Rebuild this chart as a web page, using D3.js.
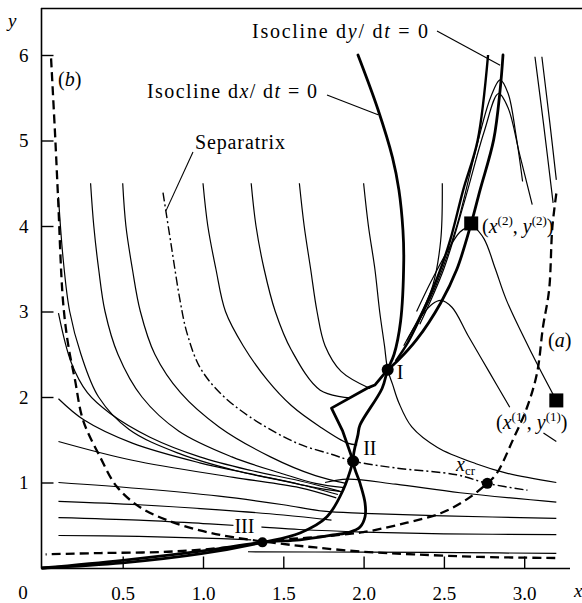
<!DOCTYPE html>
<html>
<head>
<meta charset="utf-8">
<script src="https://cdn.jsdelivr.net/npm/d3@7"></script>
<style>
  body { margin: 0; background: #fff; }
  text { font-family: "Liberation Serif", "Times New Roman", serif; fill: #000; }
</style>
</head>
<body>
<svg id="chart" width="582" height="603"></svg>
<script>
// ---- tick values ----
const xTicks = [0.5, 1.0, 1.5, 2.0, 2.5, 3.0];
const yTicks = [1, 2, 3, 4, 5, 6];

// ---- isoclines (thick) ----
const isoclineDx = [[1.965,6.0],[2.09,5.36],[2.18,4.8],[2.22,4.42],[2.245,3.95],[2.25,3.6],[2.23,2.88],[2.19,2.5],[2.15,2.32],[2.115,2.10],[1.977,1.67],[1.965,1.56],[1.935,1.25],[1.978,0.99],[2.009,0.76],[2.009,0.60],[1.978,0.48],[1.915,0.42],[1.81,0.386],[1.604,0.33],[1.37,0.30],[1.0,0.2],[0.5,0.09],[0.0,0.0]];
// dy/dt = 0 in three pieces: smooth upper branch, broken middle, smooth lower branch
const isoclineDyUpper = [[2.868,6.0],[2.85,5.59],[2.81,5.01],[2.725,4.42],[2.67,4.03],[2.58,3.49],[2.48,3.1],[2.33,2.67],[2.21,2.42],[2.15,2.32]];
const isoclineDyMiddle = [[2.15,2.32],[2.07,2.14],[2.03,2.11],[1.80,1.87],[1.87,1.6],[1.935,1.25]];
const isoclineDyLower = [[1.935,1.25],[1.872,0.91],[1.772,0.60],[1.604,0.41],[1.37,0.30],[1.0,0.17],[0.5,0.06],[0.0,0.0]];

// ---- phase trajectories (thin) ----
const trajTop = [[2.775,6.0],[2.71,5.0],[2.62,4.42],[2.54,3.84],[2.47,3.45],[2.37,3.0],[2.28,2.65],[2.2,2.42]];
const peakA = [[2.3,2.72],[2.45,3.3],[2.58,4.0],[2.7,4.9],[2.79,5.5],[2.85,5.71],[2.9,5.55],[2.95,5.05],[2.99,4.52]];
const peakB = [[2.35,2.85],[2.5,3.5],[2.63,4.3],[2.75,5.1],[2.84,5.55],[2.9,5.38],[2.97,4.85],[3.05,4.25]];
const peakC = [[2.25,2.6],[2.35,2.92],[2.43,3.09],[2.48,3.13],[2.55,3.05],[2.65,2.72],[2.78,2.3],[2.91,1.88]];
const farRight1 = [[3.067,5.98],[3.12,5.2],[3.18,4.27]];
const farRight2 = [[3.11,5.98],[3.16,5.2],[3.2,4.54]];
const fromP2toP1 = [[2.67,4.03],[2.75,3.85],[2.82,3.5],[2.89,3.13],[3.05,2.5],[3.2,1.96]];
const belowP1 = [[3.12,1.58],[3.2,1.48]];
const leftOfP2 = [[2.66,4.0],[2.6,3.93],[2.52,3.7],[2.42,3.35],[2.33,3.0]];
const trajE = [[2.49,4.5],[2.48,3.83],[2.43,3.3],[2.35,2.95],[2.27,2.66]];
const trajD = [[2.0,4.5],[2.03,4.0],[2.07,3.5],[2.1,3.0],[2.13,2.6],[2.15,2.32],[2.18,2.15],[2.22,1.93],[2.3,1.65],[2.46,1.41],[2.7,1.22],[2.89,1.11],[3.2,1.0]];
const trajC = [[1.6,4.5],[1.63,4.0],[1.67,3.5],[1.71,3.0],[1.76,2.6],[1.86,2.3],[2.04,2.1]];
const trajB = [[1.3,4.5],[1.33,4.0],[1.38,3.5],[1.45,3.0],[1.55,2.55],[1.73,2.08],[1.915,1.99]];
const trajA = [[1.0,4.5],[1.03,4.0],[1.08,3.5],[1.14,3.0],[1.25,2.6],[1.4,2.2],[1.55,1.9],[1.73,1.65],[1.9,1.46],[1.96,1.44]];
const trajS2 = [[0.5,4.5],[0.52,4.0],[0.56,3.5],[0.61,3.0],[0.7,2.5],[0.86,2.05],[1.1,1.65],[1.42,1.3],[1.7,1.08],[1.89,0.99]];
const trajS3 = [[0.3,4.5],[0.32,4.0],[0.35,3.5],[0.39,3.0],[0.47,2.5],[0.62,2.0],[0.85,1.6],[1.18,1.3],[1.5,1.1],[1.7,0.99],[1.88,0.94]];
const trajS4 = [[0.1,4.34],[0.13,3.6],[0.17,3.0],[0.24,2.5],[0.35,2.0],[0.54,1.62],[0.85,1.34],[1.2,1.14],[1.5,1.02],[1.7,0.94],[1.87,0.89]];
const trajL30 = [[0.1,2.98],[0.18,2.4],[0.28,2.05],[0.42,1.81],[0.67,1.53],[0.98,1.3],[1.3,1.14],[1.6,1.02],[1.85,0.9]];
const trajL20 = [[0.1,1.98],[0.26,1.73],[0.56,1.46],[0.98,1.23],[1.3,1.1],[1.6,0.98],[1.84,0.86]];
const trajL15 = [[0.1,1.48],[0.56,1.26],[1.19,1.06],[1.6,0.94],[1.83,0.82]];
const trajH1 = [[0.1,1.0],[0.6,0.93],[1.1,0.84],[1.5,0.74],[1.75,0.665],[2.0,0.64],[2.5,0.61],[3.2,0.58]];
const trajH2 = [[0.1,0.78],[0.6,0.74],[1.1,0.68],[1.5,0.62],[1.8,0.56]];
const trajH3 = [[0.1,0.59],[0.6,0.56],[1.0,0.52],[1.35,0.48],[1.6,0.45],[2.0,0.42],[2.5,0.40],[3.2,0.39]];
const trajH4 = [[0.1,0.38],[0.6,0.37],[1.0,0.35],[1.3,0.33]];
const trajH5 = [[1.28,0.19],[2.0,0.185],[2.6,0.18],[3.2,0.17]];
const trajR1 = [[1.76,1.0],[1.9,1.04],[2.2,0.98],[2.6,0.88],[3.2,0.77]];

// ---- special curves ----
const curveA = [[3.2,4.38],[3.175,3.98],[3.155,3.25],[3.117,2.82],[3.08,2.28],[3.018,1.88],[2.93,1.5],[2.83,1.11],[2.77,0.99],[2.64,0.8],[2.48,0.64],[2.27,0.53],[2.0,0.42],[1.69,0.36],[1.48,0.33],[1.19,0.25],[0.78,0.19],[0.36,0.175],[0.02,0.16]];
const curveB = [[0.054,5.96],[0.08,5.03],[0.097,4.35],[0.128,3.13],[0.159,2.63],[0.203,2.2],[0.253,1.73],[0.359,1.3],[0.464,0.95],[0.608,0.71],[0.776,0.56],[0.981,0.44],[1.187,0.36],[1.46,0.29],[1.7,0.24],[2.0,0.19],[2.31,0.16],[2.72,0.13],[3.2,0.117]];
const separatrix = [[0.751,4.39],[0.8,3.8],[0.857,3.13],[0.9,2.75],[0.98,2.35],[1.105,2.05],[1.29,1.77],[1.585,1.46],[1.8,1.33],[1.935,1.25],[2.2,1.17],[2.58,1.09],[2.77,0.99],[3.02,0.91]];

// ---- equilibria and marked points ----
const equilibria = [{name:"I", p:[2.15,2.32]}, {name:"II", p:[1.935,1.25]}, {name:"III", p:[1.37,0.30]}];
const xCritical = [2.77, 0.99];
const squarePoints = [[3.2,1.96],[2.67,4.03]];

const svg = d3.select("#chart");
const x = d3.scaleLinear().domain([0, 3]).range([42.4, 524.2]);
const y = d3.scaleLinear().domain([0, 6]).range([568, 55]);

const line = d3.line().x(d => x(d[0])).y(d => y(d[1])).curve(d3.curveCatmullRom.alpha(0.5));
const polyline = d3.line().x(d => x(d[0])).y(d => y(d[1]));

// frame: left axis, bottom axis, top border
svg.append("line").attr("x1", 41.5).attr("x2", 41.5).attr("y1", 8).attr("y2", 568.5).attr("stroke", "#000").attr("stroke-width", 1.6);
svg.append("line").attr("x1", 41).attr("x2", 570).attr("y1", 568.5).attr("y2", 568.5).attr("stroke", "#000").attr("stroke-width", 1.6);
svg.append("line").attr("x1", 41).attr("x2", 582).attr("y1", 8.5).attr("y2", 8.5).attr("stroke", "#000").attr("stroke-width", 1.6);

const tickFont = 19;
const yAxis = d3.axisLeft(y).tickValues(yTicks).tickFormat(d3.format("d")).tickSizeInner(-12).tickSizeOuter(0).tickPadding(13);
const gy = svg.append("g").attr("transform", "translate(41.5,0)").call(yAxis);
const xAxis = d3.axisBottom(x).tickValues(xTicks).tickFormat(d3.format(".1f")).tickSizeInner(-12).tickSizeOuter(0).tickPadding(18);
const gx = svg.append("g").attr("transform", "translate(0,568.5)").call(xAxis);
[gx, gy].forEach(g => {
  g.select(".domain").remove();
  g.selectAll(".tick line").attr("stroke", "#000").attr("stroke-width", 1.4);
  g.selectAll(".tick text").attr("font-family", "Liberation Serif, serif").attr("font-size", tickFont).attr("fill", "#000");
});
svg.append("text").attr("x", 23).attr("y", 599).attr("text-anchor", "middle").attr("font-size", tickFont).text("0");
svg.append("text").attr("x", 8).attr("y", 27).attr("font-size", tickFont).attr("font-style", "italic").text("y");
svg.append("text").attr("x", 574).attr("y", 597).attr("font-size", tickFont).attr("font-style", "italic").text("x");

// thin trajectories
const thin = [peakA, peakB, peakC, farRight1, farRight2, fromP2toP1, belowP1, leftOfP2, trajE, trajD, trajC, trajB, trajA,
  trajS2, trajS3, trajS4, trajL30, trajL20, trajL15, trajH1, trajH2, trajH3, trajH4, trajH5, trajR1];
svg.append("g").selectAll("path").data(thin).join("path")
  .attr("d", line).attr("fill", "none").attr("stroke", "#000").attr("stroke-width", 1.2);
svg.append("path").attr("d", line(trajTop)).attr("fill", "none").attr("stroke", "#000").attr("stroke-width", 2.4);

// separatrix (dash-dot)
svg.append("path").attr("d", line(separatrix)).attr("fill", "none").attr("stroke", "#000")
  .attr("stroke-width", 1.4).attr("stroke-dasharray", "9,3,2,3");

// curves (a) and (b), dashed
[curveA, curveB].forEach(c => {
  svg.append("path").attr("d", line(c)).attr("fill", "none").attr("stroke", "#000")
    .attr("stroke-width", 2.3).attr("stroke-dasharray", "9,5");
});

// isoclines
const thick = g => g.attr("fill", "none").attr("stroke", "#000").attr("stroke-width", 2.8)
  .attr("stroke-linejoin", "round").attr("stroke-linecap", "round");
svg.append("path").attr("d", line(isoclineDx)).call(thick);
svg.append("path").attr("d", line(isoclineDyUpper)).call(thick);
svg.append("path").attr("d", polyline(isoclineDyMiddle)).call(thick);
svg.append("path").attr("d", line(isoclineDyLower)).call(thick);

// label III sits on a white patch
const p3 = equilibria[2].p;
svg.append("rect").attr("x", x(p3[0]) - 29).attr("y", y(p3[1]) - 26).attr("width", 28).attr("height", 17).attr("fill", "#fff");

// markers
svg.append("g").selectAll("circle").data(equilibria).join("circle")
  .attr("cx", d => x(d.p[0])).attr("cy", d => y(d.p[1])).attr("r", (d, i) => i === 2 ? 5 : 6).attr("fill", "#000");
svg.append("circle").attr("cx", x(xCritical[0])).attr("cy", y(xCritical[1])).attr("r", 5.5).attr("fill", "#000");
svg.append("g").selectAll("rect").data(squarePoints).join("rect")
  .attr("x", d => x(d[0]) - 7).attr("y", d => y(d[1]) - 7).attr("width", 14).attr("height", 14).attr("fill", "#000");

// labels
const fs = 20;
function mathLabel(px, py, parts, len) {
  const t = svg.append("text").attr("x", px).attr("y", py).attr("font-size", fs);
  if (len) t.attr("textLength", len).attr("lengthAdjust", "spacing");
  parts.forEach(p => {
    const s = t.append("tspan").text(p.t);
    if (p.i) s.attr("font-style", "italic");
    if (p.sup) s.attr("font-size", 13).attr("dy", -8);
    if (p.down) s.attr("dy", 8);
    if (p.sub) s.attr("font-size", 13).attr("dy", 4);
  });
  return t;
}
mathLabel(252, 38, [{t:"Isocline d"},{t:"y",i:1},{t:"/ d"},{t:"t",i:1},{t:" = 0"}], 176);
mathLabel(147, 98, [{t:"Isocline d"},{t:"x",i:1},{t:"/ d"},{t:"t",i:1},{t:" = 0"}], 170);
svg.append("text").attr("x", 195).attr("y", 149).attr("font-size", fs).attr("textLength", 90).attr("lengthAdjust", "spacing").text("Separatrix");
mathLabel(58, 86, [{t:"("},{t:"b",i:1},{t:")"}]);
mathLabel(548, 347, [{t:"("},{t:"a",i:1},{t:")"}]);
mathLabel(482, 233, [{t:"("},{t:"x",i:1},{t:"(2)",sup:1},{t:", ",down:1},{t:"y",i:1},{t:"(2)",sup:1},{t:")",down:1}]);
mathLabel(496, 429, [{t:"("},{t:"x",i:1},{t:"(1)",sup:1},{t:", ",down:1},{t:"y",i:1},{t:"(1)",sup:1},{t:")",down:1}]);
mathLabel(456, 471, [{t:"x",i:1},{t:"cr",sub:1}]);
svg.append("text").attr("x", x(equilibria[0].p[0]) + 9).attr("y", y(equilibria[0].p[1]) + 9).attr("font-size", fs).text("I");
svg.append("text").attr("x", x(equilibria[1].p[0]) + 10).attr("y", y(equilibria[1].p[1]) - 6).attr("font-size", fs).text("II");
svg.append("text").attr("x", x(p3[0]) - 28).attr("y", y(p3[1]) - 9).attr("font-size", fs).text("III");

// leader lines
const leader = (x1, y1, p) => svg.append("line").attr("x1", x1).attr("y1", y1)
  .attr("x2", x(p[0])).attr("y2", y(p[1])).attr("stroke", "#000").attr("stroke-width", 1.1);
leader(437, 31, [2.85, 5.88]);
leader(327, 95, [2.09, 5.3]);
leader(193, 152, [0.77, 4.18]);
</script>
</body>
</html>
